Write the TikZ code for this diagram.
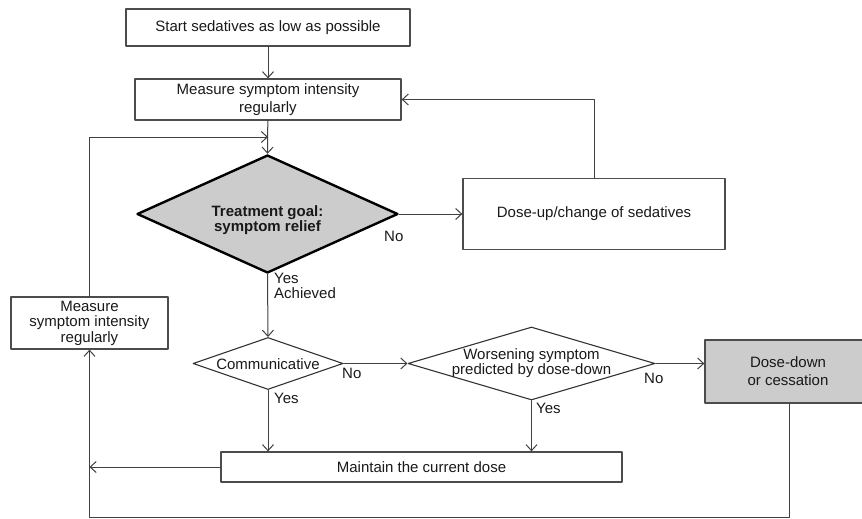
\documentclass[tikz,border=0pt]{standalone}
\usepackage{fontspec}
\setmainfont{Liberation Sans}
\usepackage{tikz}
\usetikzlibrary{arrows.meta}
\usetikzlibrary{shapes.geometric}

\begin{document}
\begin{tikzpicture}[line cap=round,line join=round,>={Straight Barb[length=6pt,width=11pt]},x=1pt,y=-1pt,
  every node/.style={font=\fontsize{15}{18}\selectfont,text=black!90},
  box/.style={draw=black!70,line width=1.3pt,rectangle,inner sep=0pt},
  decision/.style={draw=black!80,line width=1.1pt,diamond,inner sep=0pt},
  link/.style={draw=black!75,line width=1pt},
  tag/.style={inner sep=0pt,anchor=west}]
\useasboundingbox (0,0) rectangle (862,519);
% boxes
\node [box,minimum width=284pt,minimum height=37pt] (start) at (268,27.5) {Start sedatives as low as possible};
\node [box,minimum width=266pt,minimum height=41pt,align=center] (meas) at (268,99.5) {Measure symptom intensity\\regularly};
\node [box,minimum width=262pt,minimum height=71pt] (doseup) at (594,214) {Dose-up/change of sedatives};
\node [box,minimum width=157pt,minimum height=52pt,align=center,font=\fontsize{15}{15.5}\selectfont] (measleft) at (89.5,323) {Measure\\symptom intensity\\regularly};
\node [box,minimum width=401pt,minimum height=30pt] (keep) at (421.5,467) {Maintain the current dose};
\node [box,fill=black!20,minimum width=166pt,minimum height=63pt,align=center,font=\fontsize{15}{18}\selectfont] (down) at (788,371.5) {Dose-down\\or cessation};
% decisions
\node [decision,fill=black!20,line width=2.4pt,draw=black,minimum width=261pt,minimum height=118pt] (goal) at (267.5,214) {};
\node [align=center,font=\bfseries\fontsize{15}{15}\selectfont] (goaltxt) at ([yshift=-6pt]goal.center) {Treatment goal:\\symptom relief};
\node [decision,minimum width=150pt,minimum height=52pt] (comm) at (268,363.5) {};
\node (commtxt) at ([yshift=-1pt]comm.center) {Communicative};
\node [decision,minimum width=247pt,minimum height=73pt] (worse) at (531.5,363.5) {};
\node [align=center,font=\fontsize{15}{15}\selectfont] (worsetxt) at (worse) {Worsening symptom\\predicted by dose-down};
% labels
\node [tag] (nogoal) at (384,236) {No};
\node [tag,align=left,font=\fontsize{15}{14.5}\selectfont] (yesgoal) at (274,286) {Yes\\Achieved};
\node [tag] (nocomm) at (342,373) {No};
\node [tag] (yescomm) at (274,398) {Yes};
\node [tag] (noworse) at (644,378) {No};
\node [tag] (yesworse) at (536,408) {Yes};
% connectors
\coordinate (merge) at (268,137);
\coordinate (corner) at (789,517);
\draw [link,->] (start) -- (meas);
\draw [link,->] (meas) -- (goal.north);
\draw [link,->] (measleft.north) |- (merge);
\draw [link,->] (goal.east) -- (doseup.west);
\draw [link,->] (doseup.north) |- (meas.east);
\draw [link,->] (goal.south) -- (comm.north);
\draw [link,->] (comm.east) -- (worse.west);
\draw [link,->] (worse.east) -- (worse.east -| down.west);
\draw [link,->] (comm.south) -- (comm.south |- keep.north);
\draw [link,->] (worse.south) -- (worse.south |- keep.north);
\draw [link,->] (keep.west) -- (keep.west -| measleft.south);
\draw [link,->] (down.south -| corner) -- (corner) -| (measleft.south);
\end{tikzpicture}
\end{document}
